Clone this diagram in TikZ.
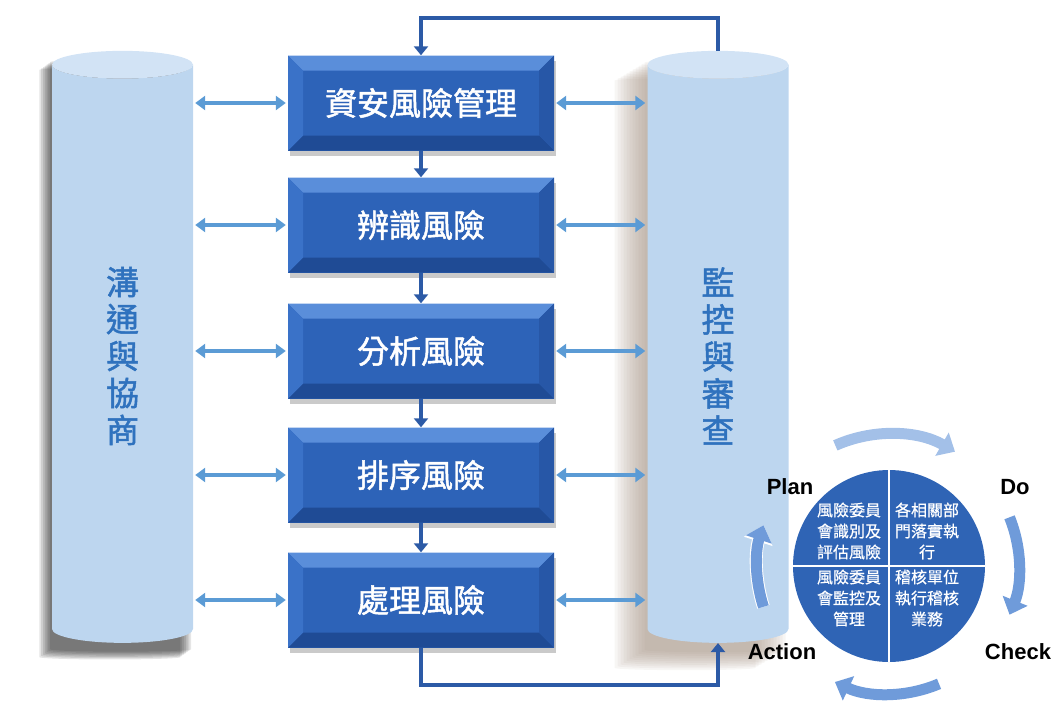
\documentclass[tikz,border=0pt]{standalone}
\usepackage{fontspec}
\usetikzlibrary{arrows.meta,shapes.geometric,shadows,backgrounds}
\newfontfamily\cjk[FakeBold=0.6]{Noto Sans CJK TC}
\newfontfamily\cjkbold[FakeBold=1.5]{Noto Sans CJK TC}
\newfontfamily\latin{Liberation Sans}
\definecolor{boxface}{HTML}{2D63B8}
\definecolor{boxtop}{HTML}{5A8EDA}
\definecolor{boxbottom}{HTML}{1F4B95}
\definecolor{boxleft}{HTML}{3A72C8}
\definecolor{boxright}{HTML}{2757A7}
\definecolor{cylbody}{HTML}{BDD6EF}
\definecolor{cylend}{HTML}{D2E3F5}
\definecolor{cyltext}{HTML}{2F72BE}
\definecolor{linkblue}{HTML}{5B9BD5}
\definecolor{flowblue}{HTML}{2C5AA6}
\definecolor{cyclearrow}{HTML}{6F9BDA}
\definecolor{cyclefaint}{HTML}{A3C0E8}
\definecolor{pdcafill}{HTML}{2F64B5}
\definecolor{warmshade}{HTML}{9C8878}
\tikzset{
  riskbox/.style={rectangle, fill=boxface, minimum width=266pt, minimum height=95pt,
    text=white, font=\cjkbold\fontsize{32}{36}\selectfont,
    drop shadow={shadow xshift=2pt, shadow yshift=-5pt, opacity=.35, fill=black!60},
    path picture={
      \coordinate (nw) at (path picture bounding box.north west);
      \coordinate (ne) at (path picture bounding box.north east);
      \coordinate (sw) at (path picture bounding box.south west);
      \coordinate (se) at (path picture bounding box.south east);
      \fill[boxtop] (nw) -- (ne) -- ([shift={(-15pt,-15pt)}]ne) -- ([shift={(15pt,-15pt)}]nw) -- cycle;
      \fill[boxbottom] (sw) -- (se) -- ([shift={(-15pt,15pt)}]se) -- ([shift={(15pt,15pt)}]sw) -- cycle;
      \fill[boxleft] (nw) -- (sw) -- ([shift={(15pt,15pt)}]sw) -- ([shift={(15pt,-15pt)}]nw) -- cycle;
      \fill[boxright] (ne) -- (se) -- ([shift={(-15pt,15pt)}]se) -- ([shift={(-15pt,-15pt)}]ne) -- cycle;
    }},
  tank shape/.style={cylinder, shape border rotate=90, aspect=0.7,
    minimum width=141pt, minimum height=592pt},
  tank/.style={tank shape,
    cylinder uses custom fill, cylinder body fill=cylbody, cylinder end fill=cylend,
    text=cyltext, align=center, font=\cjkbold\fontsize{33}{37}\selectfont},
  link/.style={linkblue, line width=4pt, shorten <=2pt, shorten >=2pt,
    {Triangle[length=10pt,width=14pt]}-{Triangle[length=10pt,width=14pt]}},
  flow/.style={flowblue, line width=4pt, -{Triangle[length=9pt,width=14pt]}},
  cycle arrow/.style={cyclearrow, line width=11pt, -{Triangle[length=15pt,width=26pt]}},
  quarter/.style={text=white, align=center, font=\cjk\fontsize{16}{21}\selectfont},
  phase/.style={font=\latin\bfseries\fontsize{22}{24}\selectfont}
}
\begin{document}
\begin{tikzpicture}[x=1pt, y=-1pt]
    \useasboundingbox (0,0) rectangle (1058,702);
    % pillars
    \node[tank] (talk)  at (122.5,356) {溝\\通\\與\\協\\商};
    \node[tank] (watch) at (718,356)   {監\\控\\與\\審\\查};
    \begin{scope}[on background layer]
      \foreach \k in {1,...,7}
        \node[tank shape, fill=black, opacity=.1] at ([shift={(-1.8*\k pt,-1.3*\k pt)}]talk.center) {};
      \foreach \k in {1,...,11}
        \node[tank shape, fill=warmshade, opacity=.08] at ([shift={(-3*\k pt,-1.8*\k pt)}]watch.center) {};
    \end{scope}
    % process
    \node[riskbox] (manage)   at (421,103) {資安風險管理};
    \node[riskbox] (identify) at (421,225) {辨識風險};
    \node[riskbox] (analyse)  at (421,351) {分析風險};
    \node[riskbox] (rank)     at (421,475) {排序風險};
    \node[riskbox] (treat)    at (421,600) {處理風險};
    \coordinate (topturn) at (718,18);
    \coordinate (lowturn) at (718,685);
    \draw[flow] (manage) -- (identify);
    \draw[flow] (identify) -- (analyse);
    \draw[flow] (analyse) -- (rank);
    \draw[flow] (rank) -- (treat);
    \draw[flow] (watch.north) -- (watch.north |- topturn) -| (manage.north);
    \draw[flow] (treat.south) -- (treat.south |- lowturn) -| (watch.south);
    % both sides
    \draw[link] (manage.west) -- (manage.west -| talk.east);
    \draw[link] (identify.west) -- (identify.west -| talk.east);
    \draw[link] (analyse.west) -- (analyse.west -| talk.east);
    \draw[link] (rank.west) -- (rank.west -| talk.east);
    \draw[link] (treat.west) -- (treat.west -| talk.east);
    \draw[link] (manage.east) -- (manage.east -| watch.west);
    \draw[link] (identify.east) -- (identify.east -| watch.west);
    \draw[link] (analyse.east) -- (analyse.east -| watch.west);
    \draw[link] (rank.east) -- (rank.east -| watch.west);
    \draw[link] (treat.east) -- (treat.east -| watch.west);
    % PDCA
    \node[circle, fill=pdcafill, minimum size=192pt] (pdca) at (889,566) {};
    \draw[white, line width=2pt] (pdca.north) -- (pdca.south);
    \draw[white, line width=2pt] (pdca.west) -- (pdca.east);
    \node[quarter] (plantext)   at (849,531) {風險委員\\會識別及\\評估風險};
    \node[quarter] (dotext)     at (927,531) {各相關部\\門落實執\\行};
    \node[quarter] (actiontext) at (849,598) {風險委員\\會監控及\\管理};
    \node[quarter] (checktext)  at (927,598) {稽核單位\\執行稽核\\業務};
    \draw[cycle arrow, cyclefaint] (pdca.center) ++(-114:132) arc[start angle=-114, end angle=-60, radius=132];
    \draw[cycle arrow] (pdca.center) ++(-22:130) arc[start angle=-22, end angle=22, radius=130];
    \draw[cycle arrow] (pdca.center) ++(67:128) arc[start angle=67, end angle=115, radius=128];
    \draw[cycle arrow, draw=white, line width=13pt, -{Triangle[length=17pt,width=29pt]}] (pdca.center) ++(162:132) arc[start angle=162, end angle=198, radius=132];
    \draw[cycle arrow] (pdca.center) ++(162:132) arc[start angle=162, end angle=198, radius=132];
    \node[phase] (plan)   at (790,487)  {Plan};
    \node[phase] (do)     at (1015,487) {Do};
    \node[phase] (check)  at (1018,652) {Check};
    \node[phase] (action) at (782,652)  {Action};
\end{tikzpicture}
\end{document}
